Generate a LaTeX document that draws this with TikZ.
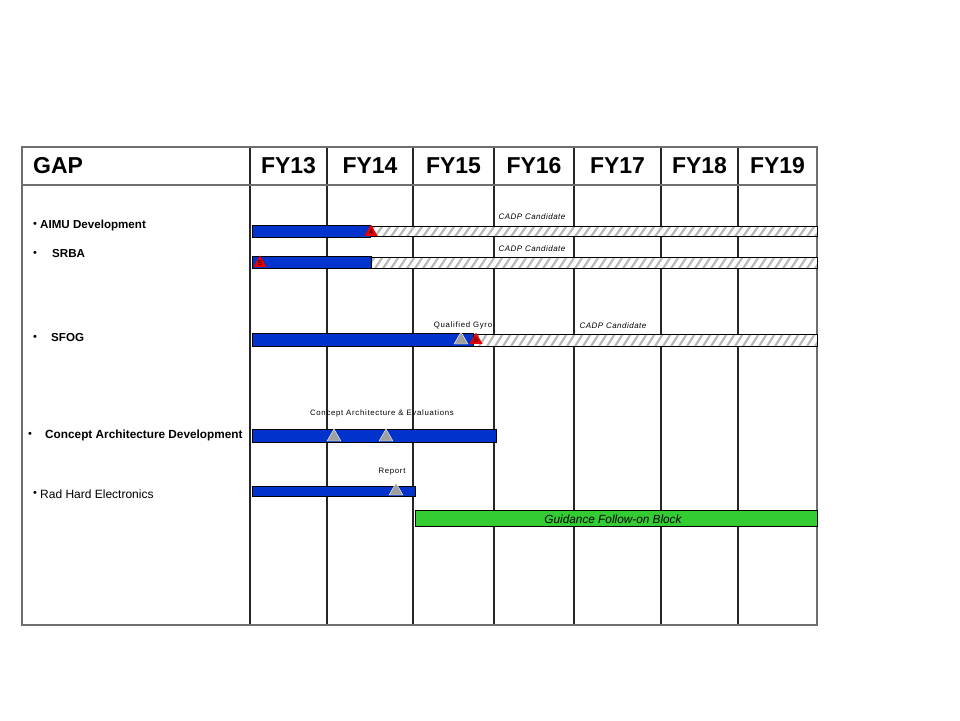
\documentclass[tikz,border=0pt]{standalone}
\usepackage{fontspec}
\setmainfont{Liberation Sans}
\usetikzlibrary{shapes.geometric}

\definecolor{barblue}{RGB}{0,51,204}
\definecolor{bargreen}{RGB}{51,204,51}
\definecolor{msred}{RGB}{232,0,0}
\definecolor{msgray}{RGB}{160,160,160}
\definecolor{gridgray}{RGB}{110,110,110}
\definecolor{hatchgray}{RGB}{185,185,185}

\begin{document}
\begin{tikzpicture}[x=1pt,y=-1pt,
  hdr/.style={font=\fontsize{23}{26}\selectfont\bfseries,inner sep=0pt},
  task/.style={font=\fontsize{11.6}{13}\selectfont\bfseries,anchor=west,inner sep=0pt},
  bul/.style={font=\fontsize{11}{12}\selectfont,inner sep=0pt},
  note/.style={font=\fontsize{7.8}{9}\selectfont\addfontfeatures{LetterSpace=9},inner sep=0pt},
  cadp/.style={font=\fontsize{8}{9}\selectfont\itshape\addfontfeatures{LetterSpace=6},inner sep=0pt},
  colline/.style={draw=black!85,line width=1.2pt},
  bluebar/.style={draw=black,fill=barblue,line width=0.9pt},
  hatchline/.style={draw=hatchgray,line width=2.2pt},
  framebar/.style={draw=black,line width=0.9pt},
  greenbar/.style={draw=black,fill=bargreen,line width=0.9pt},
  redms/.style={regular polygon,regular polygon sides=3,minimum size=15pt,inner sep=0pt,fill=msred,font=\fontsize{7}{7}\selectfont},
  grayms/.style={regular polygon,regular polygon sides=3,minimum size=16pt,inner sep=0pt,fill=msgray,draw=white,line width=0.4pt}]
\useasboundingbox (0,0) rectangle (960,720);

% table frame
\foreach \cx in {250,327,413,494,574,661,738}
  \draw[colline] (\cx,147) -- (\cx,625);
\draw[draw=gridgray,line width=1.5pt] (22,185) -- (817,185);
\draw[draw=gridgray,line width=1.6pt] (22,147) rectangle (817,625);

% header
\node[hdr,anchor=west] (hdr_gap) at (33,166) {GAP};
\foreach \yr/\cx in {13/288.5,14/370,15/453.5,16/534,17/617.5,18/699.5,19/777.5}
  \node[hdr] (fy\yr) at (\cx,166) {FY\yr};

% task names
\node[bul] (b_aimu) at (35,225) {•};
\node[task] (t_aimu) at (40,225) {AIMU Development};
\node[bul] (b_srba) at (35,254) {•};
\node[task] (t_srba) at (52,254) {SRBA};
\node[bul] (b_sfog) at (35,338) {•};
\node[task] (t_sfog) at (51,338) {SFOG};
\node[bul] (b_cad) at (30,435) {•};
\node[task,font=\fontsize{11.8}{13}\selectfont\bfseries] (t_cad) at (45,435) {Concept Architecture Development};
\node[bul] (b_rhe) at (35,494) {•};
\node[task,font=\fontsize{12}{14}\selectfont] (t_rhe) at (40,494) {Rad Hard Electronics};

% hatched candidate bars
\foreach \xa/\ya/\yb in {370/226/236,371/257/268,473/334/346}{
  \fill[white] (\xa,\ya) rectangle (817,\yb);
  \begin{scope}
    \clip (\xa,\ya) rectangle (817,\yb);
    \foreach \hx in {350,358,...,830}
      \draw[hatchline] (\hx,\yb+2) -- (\hx+10,\ya-2);
  \end{scope}
  \draw[framebar] (\xa,\ya) rectangle (817,\yb);
}

% AIMU
\draw[bluebar] (252,225) rectangle (370,237);
\node[redms] (ms_aimu) at (371,232) {4};
\node[cadp] (c_aimu) at (532,217) {CADP Candidate};

% SRBA
\draw[bluebar] (252,256) rectangle (371,268);
\node[redms] (ms_srba) at (260,263) {5};
\node[cadp] (c_srba) at (532,249) {CADP Candidate};

% SFOG
\draw[bluebar] (252,333) rectangle (473,346);
\node[grayms] (g_sfog) at (461,340) {};
\node[redms] (ms_sfog) at (476,340) {6};
\node[note] (q_sfog) at (463,325) {Qualified Gyro};
\node[cadp] (c_sfog) at (613,326) {CADP Candidate};

% concept architecture
\draw[bluebar] (252,429) rectangle (496,442);
\node[grayms] (g_cad1) at (334,437) {};
\node[grayms] (g_cad2) at (386,437) {};
\node[note] (n_cad) at (382,413) {Concept Architecture \& Evaluations};

% rad hard
\draw[bluebar] (252,486) rectangle (415,496);
\node[grayms] (g_rhe) at (396,491) {};
\node[note] (n_rhe) at (392,472) {Report};

% follow-on block
\draw[greenbar] (415,510) rectangle (817,526);
\node[font=\fontsize{11.8}{13}\selectfont\itshape,inner sep=0pt] (n_gfb) at (613,519) {Guidance Follow-on Block};
\end{tikzpicture}
\end{document}
